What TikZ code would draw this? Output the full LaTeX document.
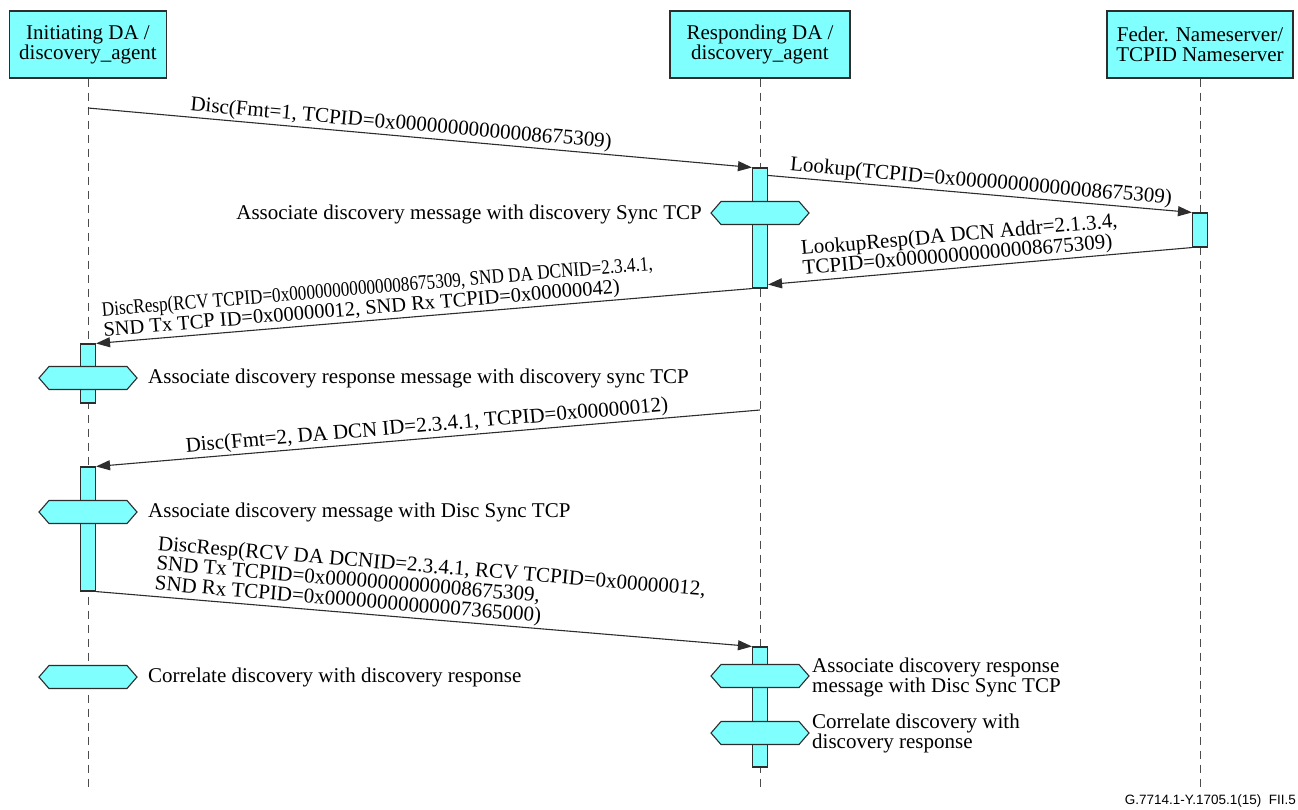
\documentclass[tikz,border=0pt]{standalone}
\usepackage{graphicx}
\usepackage{fontspec}
\setmainfont{Liberation Serif}
\newfontfamily\footfont{Liberation Sans}
\usetikzlibrary{arrows.meta,shapes.symbols,calc}
\definecolor{cyanfill}{RGB}{128,255,255}
\definecolor{edgecol}{RGB}{45,45,45}
\newcommand\zz{0000000000000}
\begin{document}
\begin{tikzpicture}[x=1pt,y=-1pt,
  hdr/.style={draw=edgecol, line width=1.2pt, fill=cyanfill, minimum height=67pt, align=center, inner sep=0pt, font=\fontsize{21}{20}\selectfont},
  act/.style={draw=edgecol, line width=1.1pt, fill=cyanfill, minimum width=15pt, inner sep=0pt},
  life/.style={draw=black!70, line width=1pt, dash pattern=on 8pt off 6pt},
  msg/.style={draw=edgecol, line width=1.1pt, -{Triangle[length=14pt,width=10pt]}},
  lbl/.style={font=\fontsize{21}{20}\selectfont, inner sep=1.5pt, align=left},
  hexa/.style={draw=edgecol, line width=1.1pt, fill=cyanfill, shape=signal, signal to=west and east, signal pointer angle=98, minimum width=98pt, minimum height=23pt, inner sep=0pt},
  note/.style={font=\fontsize{21}{20}\selectfont, inner sep=0pt, align=left}
]
\useasboundingbox (0,0) rectangle (1298,809);

% header boxes
\node[hdr, minimum width=157pt] (hL) at (88,44.5) {Initiating DA /\\discovery\_agent};
\node[hdr, minimum width=180pt] (hM) at (760,44.5) {Responding DA /\\discovery\_agent};
\node[hdr, minimum width=186pt] (hR) at (1200,44.5) {Feder. Nameserver/\\TCPID Nameserver};

% lifeline ends
\coordinate (eL) at (88,790);
\coordinate (eM) at (760,790);
\coordinate (eR) at (1200,790);
\draw[life] (hL.south) -- (eL);
\draw[life] (hM.south) -- (eM);
\draw[life] (hR.south) -- (eR);

% activation bars
\node[act, minimum height=120pt] (aM1) at (760,228) {};
\node[act, minimum height=34pt] (aR1) at (1200,230) {};
\node[act, minimum height=59pt] (aL1) at (88,373.5) {};
\node[act, minimum height=124pt] (aL2) at (88,529) {};
\node[act, minimum height=120pt] (aM2) at (760,707) {};

% hexagons
\node[hexa] (xM1) at (760,213) {};
\node[hexa] (xL1) at (88,378) {};
\node[hexa] (xL2) at (88,512) {};
\node[hexa] (xL3) at (88,677) {};
\node[hexa] (xM2) at (760,676) {};
\node[hexa] (xM3) at (760,733) {};

% hexagon notes
\node[note, anchor=east] (tM1) at (702,214) {Associate discovery message with discovery Sync TCP};
\node[note, anchor=west] (tL1) at (148,378) {Associate discovery response message with discovery sync TCP};
\node[note, anchor=west] (tL2) at (148,512) {Associate discovery message with Disc Sync TCP};
\node[note, anchor=west] (tL3) at (148,677) {Correlate discovery with discovery response};
\node[note, anchor=west] (tM2) at (812,677) {Associate discovery response\\message with Disc Sync TCP};
\node[note, anchor=west] (tM3) at (812,733) {Correlate discovery with\\discovery response};

% message endpoints
\coordinate (s1) at (88,108);
\coordinate (s2) at ($(aM1.north east)+(0,8)$);
\coordinate (e3) at ($(aM1.south east)+(0,-4)$);
\coordinate (s5) at (760,410);

% messages
\draw[msg] (s1) -- (aM1.north west)
  node[lbl, pos=0.47, sloped, above] (m1) {Disc(Fmt=1, TCPID=0x\zz8675309)};
\draw[msg] (s2) -- (aR1.north west)
  node[lbl, pos=0.5, sloped, above] (m2) {Lookup(TCPID=0x\zz8675309)};
\draw[msg] (aR1.south west) -- (e3)
  node[lbl, pos=0.92, sloped, anchor=south west] (m3) {LookupResp(DA DCN Addr=2.1.3.4,\\TCPID=0x\zz8675309)};
\draw[msg] (aM1.south west) -- (aL1.north east)
  node[lbl, font=\fontsize{20.5}{20}\selectfont, pos=0.99, sloped, anchor=south west] (m4) {\scalebox{0.84}[1]{DiscResp(RCV TCPID=0x\zz8675309, SND DA DCNID=2.3.4.1,}\\SND Tx TCP ID=0x00000012, SND Rx TCPID=0x00000042)};
\draw[msg] (s5) -- (aL2.north east)
  node[lbl, pos=0.5, sloped, above] (m5) {Disc(Fmt=2, DA DCN ID=2.3.4.1, TCPID=0x00000012)};
\draw[msg] (aL2.south east) -- (aM2.north west)
  node[lbl, pos=0.085, sloped, anchor=south west] (m6) {DiscResp(RCV DA DCNID=2.3.4.1, RCV TCPID=0x00000012,\\SND Tx TCPID=0x\zz8675309,\\SND Rx TCPID=0x\zz7365000)};

% footer
\node[font=\footfont\fontsize{13.5}{14}\selectfont, anchor=east, inner sep=0pt] (foot) at (1296,801) {G.7714.1-Y.1705.1(15)\ \ FII.5};
\end{tikzpicture}
\end{document}
